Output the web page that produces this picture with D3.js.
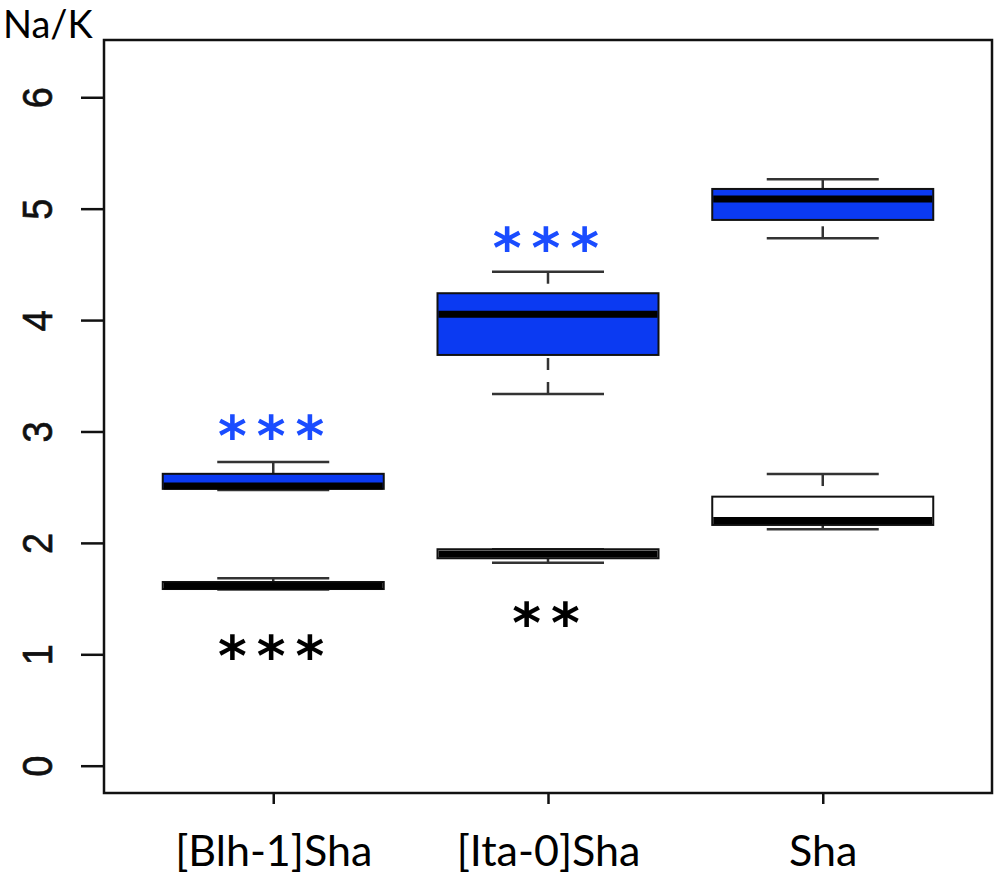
<!DOCTYPE html>
<html>
<head>
<meta charset="utf-8">
<script src="https://cdn.jsdelivr.net/npm/d3@7"></script>
<style>
  body { margin: 0; background: #fff; }
</style>
</head>
<body>
<div id="chart-area"></div>
<script>
// genotypes on the x axis
var groups = ["[Blh-1]Sha", "[Ita-0]Sha", "Sha"]

// box stats: [lower whisker, Q1, median, Q3, upper whisker]
var blueStats = [
  [2.475, 2.485, 2.51, 2.62, 2.726],
  [3.337, 3.687, 4.052, 4.241, 4.434],
  [4.734, 4.899, 5.087, 5.177, 5.264]
]
var whiteStats = [
  [1.582, 1.586, 1.613, 1.649, 1.682],
  [1.822, 1.862, 1.90, 1.943, 1.943],
  [2.122, 2.161, 2.201, 2.415, 2.618]
]

var yTicks = [0, 1, 2, 3, 4, 5, 6]

// significance marks
var starGroup = ["[Blh-1]Sha", "[Ita-0]Sha", "[Blh-1]Sha", "[Ita-0]Sha"]
var starText = ["***", "***", "***", "**"]
var starValue = [3.058, 4.746, 1.083, 1.38]
var starColor = ["#1a4cff", "#1a4cff", "#000000", "#000000"]

var svg = d3.select("#chart-area")
  .append("svg")
  .attr("width", 1000)
  .attr("height", 880)

var x = d3.scalePoint()
  .domain(groups)
  .range([104, 992])
  .padding(0.616)

var y = d3.scaleLinear()
  .domain([-0.245, 6.514])
  .range([793, 40])

var boxW = 221
var capW = 112

// frame
svg.append("rect")
  .attr("x", 104)
  .attr("y", 40)
  .attr("width", 888)
  .attr("height", 753)
  .attr("fill", "none")
  .attr("stroke", "#111")
  .attr("stroke-width", 2.5)

// y axis
var yAxis = svg.append("g")
  .attr("transform", "translate(104,0)")
  .call(d3.axisLeft(y).tickValues(yTicks).tickSize(23).tickFormat(d3.format("d")))
yAxis.select(".domain").remove()
yAxis.selectAll("line").attr("stroke", "#111").attr("stroke-width", 2.5)
yAxis.selectAll("text")
  .attr("x", 0)
  .attr("y", 0)
  .attr("dy", 0)
  .attr("text-anchor", "middle")
  .attr("transform", "translate(-52,0) scale(1.1,1) rotate(-90)")
  .attr("font-family", "Liberation Sans, Arial, sans-serif")
  .attr("font-size", 38)
  .attr("fill", "#111")
  .attr("stroke", "#111")
  .attr("stroke-width", 0.6)

// x axis
var xAxis = svg.append("g")
  .attr("transform", "translate(0,793)")
  .call(d3.axisBottom(x).tickSize(11))
xAxis.select(".domain").remove()
xAxis.selectAll("line").attr("stroke", "#111").attr("stroke-width", 2.5)
xAxis.selectAll("text")
  .attr("y", 73)
  .attr("dy", 0)
  .attr("font-family", "Lato, sans-serif")
  .attr("font-size", 43)
  .attr("fill", "#000")

// y title
svg.append("text")
  .attr("x", 3)
  .attr("y", 38)
  .attr("font-family", "Lato, sans-serif")
  .attr("font-size", 38)
  .text("Na/K")

function drawBoxes(stats, fill) {
  var g = svg.append("g")
  var boxes = g.selectAll("g.box")
    .data(stats)
    .enter()
    .append("g")
    .attr("class", "box")

  // whiskers, drawn from the end toward the hinge (R style dashed)
  boxes.append("line")
    .attr("x1", function(d, i) { return x(groups[i]) })
    .attr("x2", function(d, i) { return x(groups[i]) })
    .attr("y1", function(d) { return y(d[4]) })
    .attr("y2", function(d) { return y(d[3]) })
    .attr("stroke", "#333")
    .attr("stroke-width", 2.5)
    .attr("stroke-dasharray", "12,12")
  boxes.append("line")
    .attr("x1", function(d, i) { return x(groups[i]) })
    .attr("x2", function(d, i) { return x(groups[i]) })
    .attr("y1", function(d) { return y(d[0]) })
    .attr("y2", function(d) { return y(d[1]) })
    .attr("stroke", "#333")
    .attr("stroke-width", 2.5)
    .attr("stroke-dasharray", "12,12")

  // caps
  ;[0, 4].forEach(function(k) {
    boxes.append("line")
      .attr("x1", function(d, i) { return x(groups[i]) - capW / 2 })
      .attr("x2", function(d, i) { return x(groups[i]) + capW / 2 })
      .attr("y1", function(d) { return y(d[k]) })
      .attr("y2", function(d) { return y(d[k]) })
      .attr("stroke", "#333")
      .attr("stroke-width", 2.5)
  })

  boxes.append("rect")
    .attr("x", function(d, i) { return x(groups[i]) - boxW / 2 })
    .attr("y", function(d) { return y(d[3]) })
    .attr("width", boxW)
    .attr("height", function(d) { return y(d[1]) - y(d[3]) })
    .attr("fill", fill)
    .attr("stroke", "#111")
    .attr("stroke-width", 2)

  boxes.append("line")
    .attr("x1", function(d, i) { return x(groups[i]) - boxW / 2 + 1 })
    .attr("x2", function(d, i) { return x(groups[i]) + boxW / 2 - 1 })
    .attr("y1", function(d) { return y(d[2]) })
    .attr("y2", function(d) { return y(d[2]) })
    .attr("stroke", "#000")
    .attr("stroke-width", 7)
}

drawBoxes(blueStats, "#0b3af2")
drawBoxes(whiteStats, "#ffffff")

// stars
svg.selectAll("text.star")
  .data(starText)
  .enter()
  .append("text")
  .attr("class", "star")
  .attr("x", function(d, i) { return x(starGroup[i]) + 3 })
  .attr("y", function(d, i) { return y(starValue[i]) + 30 })
  .attr("text-anchor", "middle")
  .attr("font-family", "DejaVu Sans, sans-serif")
  .attr("font-weight", "bold")
  .attr("font-size", 55)
  .attr("letter-spacing", 10)
  .attr("fill", function(d, i) { return starColor[i] })
  .text(function(d) { return d })
</script>
</body>
</html>
